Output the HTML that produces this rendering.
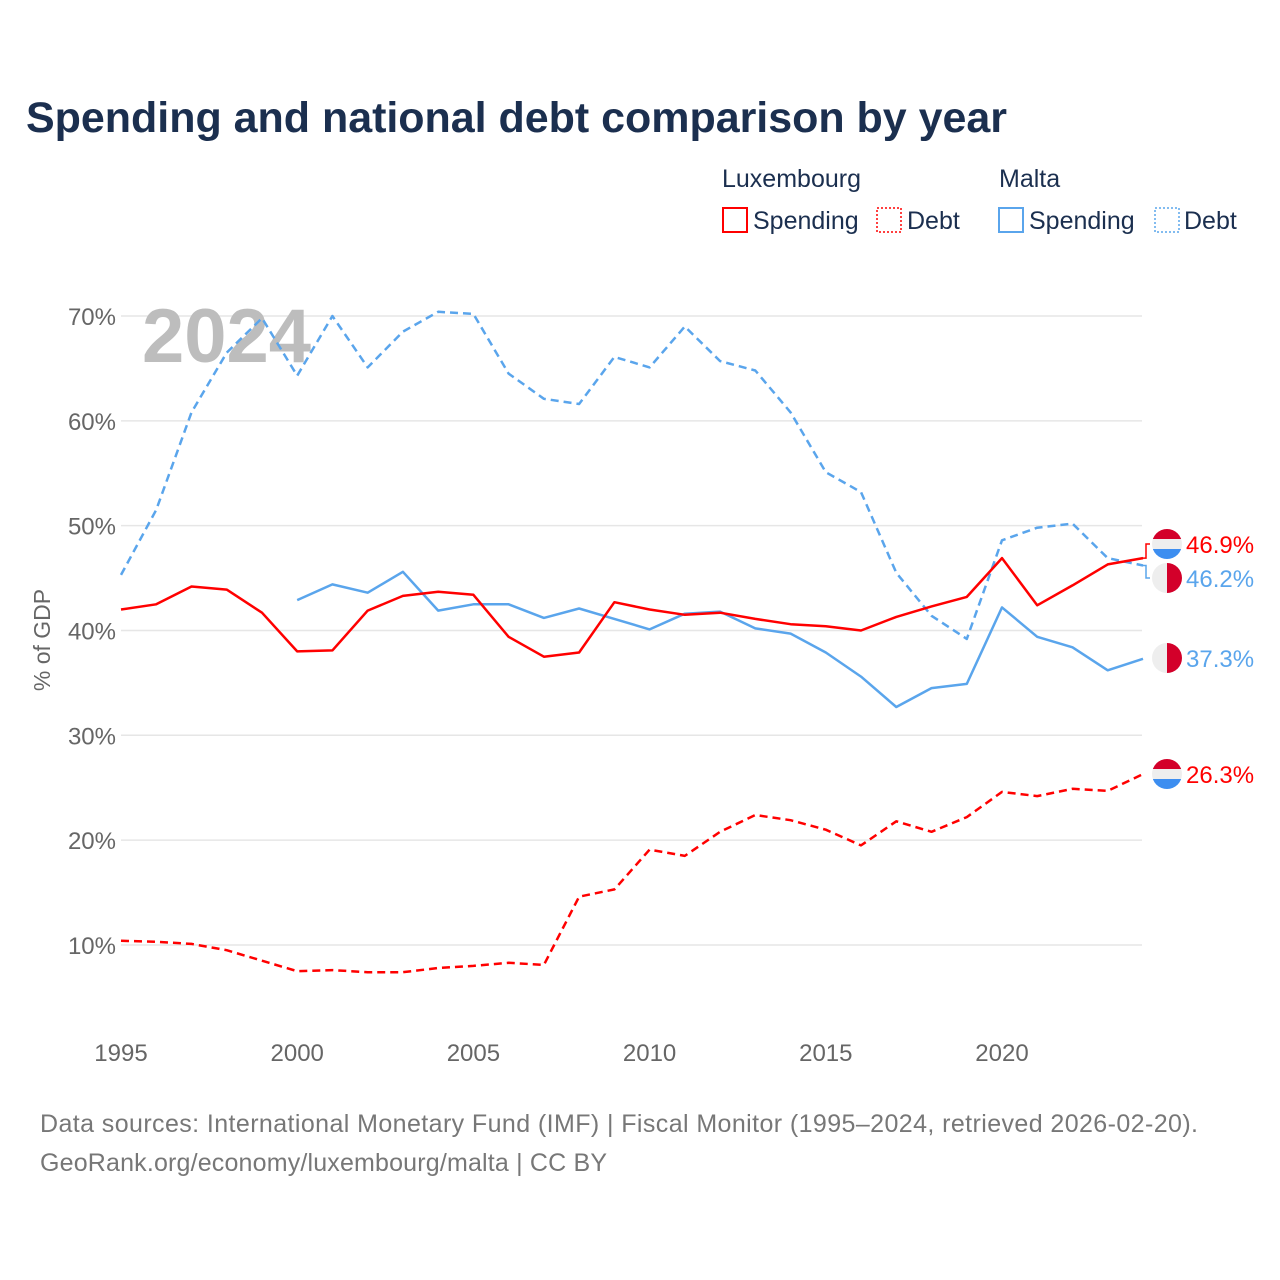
<!DOCTYPE html>
<html><head><meta charset="utf-8"><style>
body{margin:0;background:#fff;font-family:"Liberation Sans",sans-serif;}
svg{display:block}
</style></head><body>
<svg id="chart" width="1280" height="1280" xmlns="http://www.w3.org/2000/svg">
<text x="26" y="132" font-size="43" font-weight="bold" fill="#1b2f4f" textLength="981">Spending and national debt comparison by year</text>
<g font-size="25" fill="#1b2f4f">
<text x="722" y="187">Luxembourg</text>
<text x="999" y="187">Malta</text>
<g><rect x="723" y="208" width="24" height="24" fill="none" stroke="#f00" stroke-width="2"/><text x="753" y="229">Spending</text></g>
<g><rect x="877" y="208" width="24" height="24" fill="none" stroke="#f00" stroke-width="1.5" stroke-dasharray="2,2"/><text x="907" y="229">Debt</text></g>
<g><rect x="999" y="208" width="24" height="24" fill="none" stroke="#5aa5ec" stroke-width="2"/><text x="1029" y="229">Spending</text></g>
<g><rect x="1155" y="208" width="24" height="24" fill="none" stroke="#5aa5ec" stroke-width="1.5" stroke-dasharray="2,2"/><text x="1184" y="229">Debt</text></g>
</g>
<g id="grid"></g>
<text x="142" y="362" font-size="76" font-weight="bold" fill="#bdbdbd">2024</text>
<g id="series"></g>
<g id="labels"></g>
<text transform="translate(50,640) rotate(-90)" text-anchor="middle" font-size="23" fill="#666">% of GDP</text>
<text x="40" y="1132" font-size="25" fill="#777" textLength="1158">Data sources: International Monetary Fund (IMF) | Fiscal Monitor (1995–2024, retrieved 2026-02-20).</text>
<text x="40" y="1171" font-size="25" fill="#777" textLength="567">GeoRank.org/economy/luxembourg/malta | CC BY</text>
</svg>
<script>
const years=[];for(let y=1995;y<=2024;y++)years.push(y);
const yTicks=[10,20,30,40,50,60,70];
const xTicks=[1995,2000,2005,2010,2015,2020];
const luxSpending=[42.0,42.5,44.2,43.9,41.7,38.0,38.1,41.9,43.3,43.7,43.4,39.4,37.5,37.9,42.7,42.0,41.5,41.7,41.1,40.6,40.4,40.0,41.3,42.3,43.2,46.9,42.4,44.3,46.3,46.9];
const luxDebt=[10.4,10.3,10.1,9.5,8.5,7.5,7.6,7.4,7.4,7.8,8.0,8.3,8.1,14.6,15.3,19.1,18.5,20.8,22.4,21.9,21.0,19.5,21.8,20.8,22.2,24.6,24.2,24.9,24.7,26.3];
const maltaSpending=[null,null,null,null,null,42.9,44.4,43.6,45.6,41.9,42.5,42.5,41.2,42.1,41.1,40.1,41.6,41.8,40.2,39.7,37.9,35.6,32.7,34.5,34.9,42.2,39.4,38.4,36.2,37.3];
const maltaDebt=[45.3,51.5,60.8,66.5,69.8,64.3,70.0,65.1,68.5,70.4,70.2,64.5,62.1,61.6,66.1,65.1,69.0,65.7,64.8,60.8,55.1,53.2,45.5,41.4,39.2,48.6,49.8,50.2,46.9,46.2];
const X=y=>121+(y-1995)*35.24;
const Y=v=>1049.8-v*10.483;
const NS="http://www.w3.org/2000/svg";
function mk(tag,attrs,parent){const e=document.createElementNS(NS,tag);for(const k in attrs)e.setAttribute(k,attrs[k]);parent.appendChild(e);return e;}
const grid=document.getElementById('grid');
yTicks.forEach(t=>{
 const l=mk('line',{x1:121,x2:1142,y1:Y(t),y2:Y(t),stroke:'#e6e6e6','stroke-width':1.5},grid);
 
 
 const tx=mk('text',{x:116,y:Y(t)+9,'text-anchor':'end','font-size':24,fill:'#666'},grid);
 tx.textContent=t+'%';
 
 
});
xTicks.forEach(t=>{
 const tx=mk('text',{x:X(t),y:1061,'text-anchor':'middle','font-size':24,fill:'#666'},grid);
 tx.textContent=t;
 
 
});
const ser=document.getElementById('series');
function line(vals,color,dash,name){
 let d='',pen=false;
 vals.forEach((v,i)=>{if(v==null){pen=false;return;}d+=(pen?'L':'M')+X(years[i]).toFixed(1)+','+Y(v).toFixed(1);pen=true;});
 const p=mk('path',{d:d,fill:'none',stroke:color,'stroke-width':2.5,'stroke-linejoin':'round'},ser);
 if(dash)p.setAttribute('stroke-dasharray','8,5');
 
 
}
line(maltaDebt,'#5aa5ec',true,'malta-debt-line');
line(maltaSpending,'#5aa5ec',false,'malta-spending-line');
line(luxDebt,'#f00',true,'lux-debt-line');
line(luxSpending,'#f00',false,'lux-spending-line');
const lab=document.getElementById('labels');
function endLabel(v,ly,color,flag,name){
 const last=Y(v);
 if(Math.abs(ly-last)>1){const c=mk('path',{d:`M1142,${last} H1146 V${ly} H1150`,fill:'none',stroke:color,'stroke-width':1.5},lab);
 
 }
 const g=mk('g',{},lab);
 
 
 const cx=1167,r=15;
 if(flag==='lux'){
  const cp=mk('clipPath',{id:'c'+name},g);
  mk('circle',{cx:cx,cy:ly,r:r},cp);
  mk('rect',{x:cx-r,y:ly-r,width:30,height:10,fill:'#d3002a','clip-path':`url(#c${name})`},g);
  mk('rect',{x:cx-r,y:ly-5,width:30,height:10,fill:'#eee','clip-path':`url(#c${name})`},g);
  mk('rect',{x:cx-r,y:ly+5,width:30,height:10,fill:'#3d8ef0','clip-path':`url(#c${name})`},g);
 }else{
  mk('path',{d:`M${cx},${ly-r} A${r},${r} 0 0 0 ${cx},${ly+r} Z`,fill:'#eee'},g);
  mk('path',{d:`M${cx},${ly-r} A${r},${r} 0 0 1 ${cx},${ly+r} Z`,fill:'#d3002a'},g);
 }
 const t=mk('text',{x:1186,y:ly+9,'font-size':24,fill:color},lab);
 t.textContent=v.toFixed(1)+'%';
 
 
}
const n=years.length-1;
endLabel(luxSpending[n],544,'#f00','lux','lux-spending-end');
endLabel(maltaDebt[n],578,'#5aa5ec','mt','malta-debt-end');
endLabel(maltaSpending[n],658,'#5aa5ec','mt','malta-spending-end');
endLabel(luxDebt[n],774,'#f00','lux','lux-debt-end');
</script>
</body></html>
